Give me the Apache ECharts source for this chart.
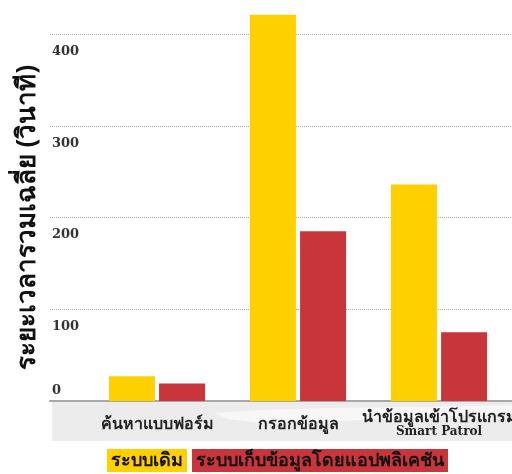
<!DOCTYPE html>
<html><head><meta charset="utf-8">
<script src="https://cdn.jsdelivr.net/npm/echarts@6/dist/echarts.min.js"></script>
<style>html,body{margin:0;padding:0;background:#fff}#c{width:512px;height:474px}</style>
</head><body><div id="c"></div>
<script>
const categories = ['ค้นหาแบบฟอร์ม', 'กรอกข้อมูล', 'นำข้อมูลเข้าโปรแกรม\nSmart Patrol'];
const seriesNames = ['ระบบเดิม', 'ระบบเก็บข้อมูลโดยแอปพลิเคชัน'];
const oldSystem = [27, 421, 236];
const appSystem = [19, 185, 75];
const yTicks = [0, 100, 200, 300, 400];
const yTitle = 'ระยะเวลารวมเฉลี่ย (วินาที)';

const colors = ['#FFD000', '#C8353A'];
const chart = echarts.init(document.getElementById('c'));
const TOP = 34, BOTTOM = 73;
const numFont = 'DejaVu Serif';
chart.setOption({
  backgroundColor: '#fff',
  animation: false,
  graphic: [
    {type:'rect', left:52, top:402, shape:{width:460, height:39}, style:{fill:'#ececec'}, z:-10},
    {type:'polygon', shape:{points:[[214,413],[260,410],[330,408],[420,407],[512,405],[512,414],[430,417],[340,421],[270,424],[228,419]]}, style:{fill:'#f7f7f7'}, z:-9}
  ],
  grid: [
    {left: 50, right: 0, top: TOP, bottom: BOTTOM, outerBoundsMode:'none', containLabel:false},
    {left: 86.5, right: 2.5, top: TOP, bottom: BOTTOM, outerBoundsMode:'none', containLabel:false}
  ],
  xAxis: [
    {gridIndex:0, type:'value', min:0, max:1, show:true, axisLine:{show:true, onZero:false, lineStyle:{color:'#a8a8a8', width:2}}, axisTick:{show:false}, axisLabel:{show:false}, splitLine:{show:false}},
    {gridIndex:1, type:'category', data: categories, axisLine:{show:false}, axisTick:{show:false},
     axisLabel:{interval:0, hideOverlap:false, margin:23, verticalAlign:'middle', color:'#222', fontWeight:'bold', fontSize:16, fontFamily:'Noto Sans',
       formatter: function(v){ const p = v.split('\n'); return p.length>1 ? '{a|'+p[0]+'}\n{b|'+p[1]+'}' : v; },
       rich:{a:{fontSize:16, fontWeight:'bold', color:'#222', lineHeight:16, fontFamily:'Noto Sans'}, b:{fontSize:12, fontWeight:'bold', color:'#222', lineHeight:14, fontFamily:numFont}}}}
  ],
  yAxis: [
    {gridIndex:0, type:'value', min:yTicks[0], max:yTicks[yTicks.length-1], interval:100,
     name: yTitle, nameLocation:'middle', nameGap:9, nameRotate:90,
     nameTextStyle:{fontSize:26, fontWeight:'bold', color:'#111', fontFamily:'Noto Sans'},
     axisLine:{show:false}, axisTick:{show:false},
     axisLabel:{inside:true, margin:2, verticalAlign:'top', padding:[11,0,0,0], fontSize:13, fontWeight:'bold', color:'#333', fontFamily:numFont,
       formatter: v => v===0 ? '' : String(v)},
     splitLine:{show:true, lineStyle:{color:'#aaa', type:[1,1], width:1}}},
    {gridIndex:0, type:'value', min:yTicks[0], max:yTicks[yTicks.length-1], interval:100, position:'left',
     axisLine:{show:false}, axisTick:{show:false}, splitLine:{show:false},
     axisLabel:{inside:true, margin:2, verticalAlign:'bottom', padding:[0,0,4,0], fontSize:13, fontWeight:'bold', color:'#333', fontFamily:numFont,
       formatter: v => v===0 ? '0' : ''}},
    {gridIndex:1, type:'value', min:yTicks[0], max:yTicks[yTicks.length-1], interval:100, show:false}
  ],
  legend: {
    bottom: 2, left: 102, padding:0, icon:'none', itemWidth:0, itemHeight:0, itemGap:0,
    textStyle:{fontSize:18, fontWeight:'bold', color:'#111', fontFamily:'Noto Sans', padding:[3,4,2,4]},
    data: [
      {name: seriesNames[0], textStyle:{backgroundColor: colors[0]}},
      {name: seriesNames[1], textStyle:{backgroundColor: colors[1]}}
    ]
  },
  series: [
    {name: seriesNames[0], type:'bar', xAxisIndex:1, yAxisIndex:2, data: oldSystem, barWidth:46, barGap:'9%', clip:false, itemStyle:{color:colors[0]}},
    {name: seriesNames[1], type:'bar', xAxisIndex:1, yAxisIndex:2, data: appSystem, barWidth:46, barGap:'9%', clip:false, itemStyle:{color:colors[1]}}
  ]
});
</script></body></html>
